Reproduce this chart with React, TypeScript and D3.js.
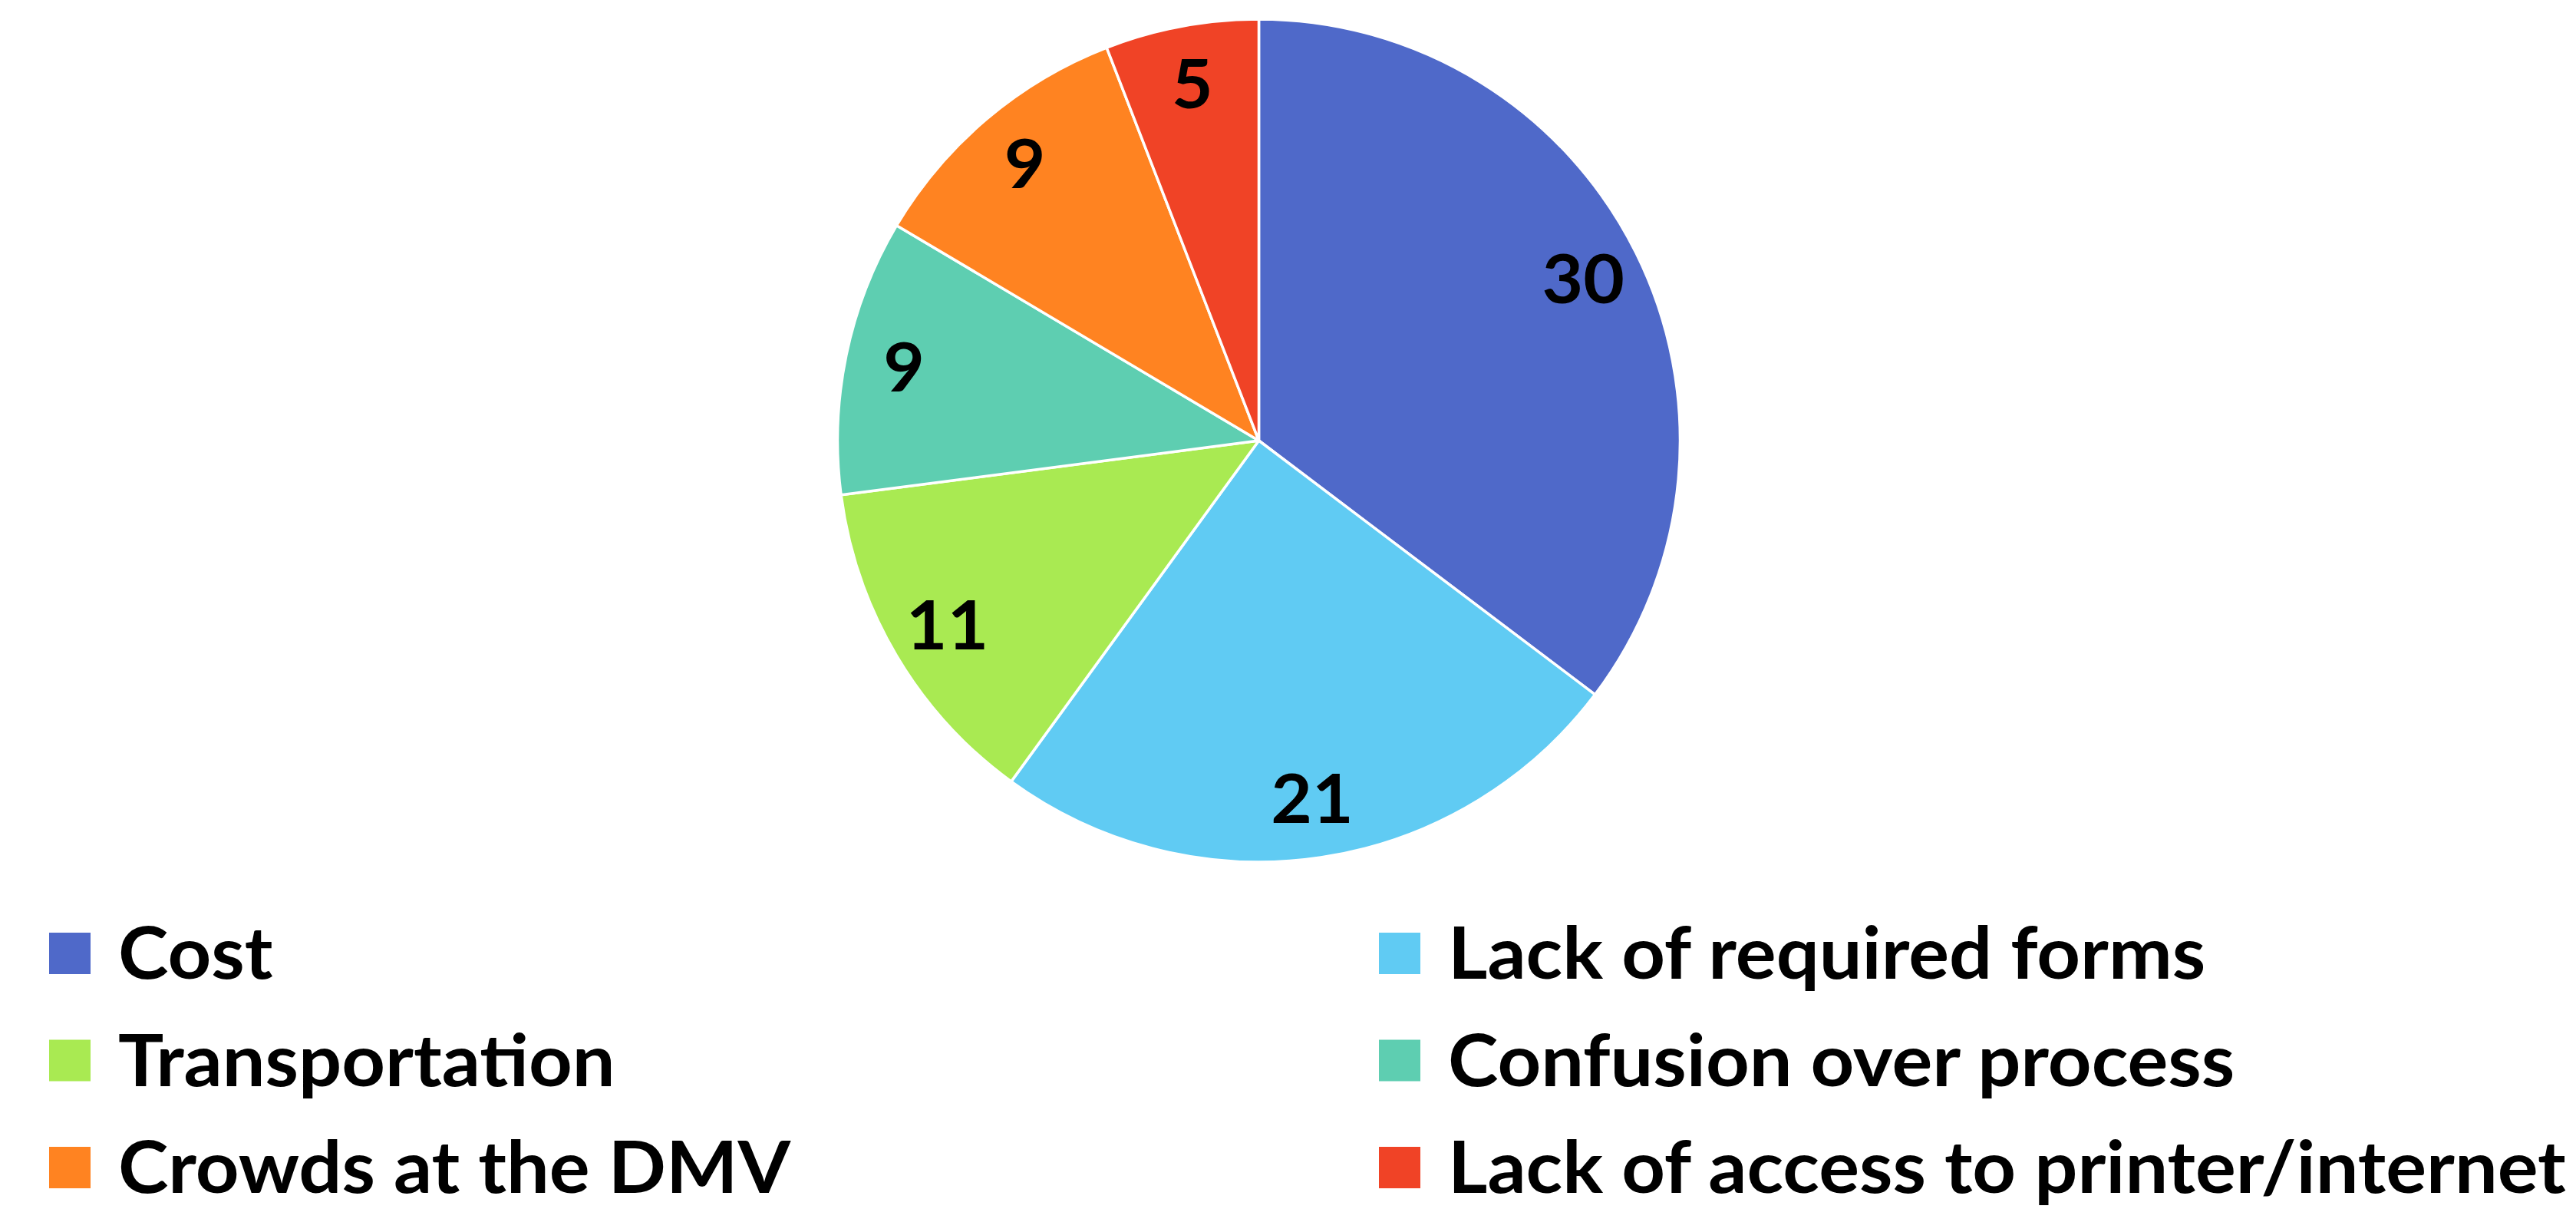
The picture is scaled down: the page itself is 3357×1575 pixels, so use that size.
import React, { useEffect, useRef } from "react";
import * as d3 from "d3";

// reasons people gave, clockwise from 12 o'clock
const categories = [
  "Cost",
  "Lack of required forms",
  "Transportation",
  "Confusion over process",
  "Crowds at the DMV",
  "Lack of access to printer/internet",
];
const counts = [30, 21, 11, 9, 9, 5];
const sliceColors = ["#4F69C9", "#60CBF3", "#A9EA52", "#5ECEB1", "#FF8321", "#F04326"];

const W = 3357;
const H = 1575;

export default function App() {
  const ref = useRef<SVGSVGElement>(null);

  useEffect(() => {
    document.body.style.margin = "0";
    const svg = d3.select(ref.current);
    svg.selectAll("*").remove();

    const font = "Lato, 'Open Sans', sans-serif";
    const cx = 1640.5,
      cy = 574,
      r = 549;

    // measure the longest legend entry, then stretch text to the reference's width
    const probe = svg
      .append("text")
      .attr("font-family", font)
      .attr("font-weight", 700)
      .attr("font-size", 94)
      .text(categories[5]);
    const natural = (probe.node() as SVGTextElement).getComputedTextLength() || 1457;
    probe.remove();
    const squeeze = 1457 / natural;

    const data = categories.map((c, i) => ({ name: c, value: counts[i], color: sliceColors[i] }));

    const pie = d3
      .pie<any>()
      .sort(null)
      .value((d) => d.value);
    const arc = d3.arc<any>().innerRadius(0).outerRadius(r);
    const labelArc = d3.arc<any>().innerRadius(r * 0.86).outerRadius(r * 0.86);

    const g = svg.append("g").attr("transform", `translate(${cx},${cy})`);

    g.selectAll("path")
      .data(pie(data))
      .enter()
      .append("path")
      .attr("d", arc)
      .attr("fill", (d) => d.data.color)
      .attr("stroke", "#fff")
      .attr("stroke-width", 3.5)
      .attr("stroke-linejoin", "round");

    g.selectAll("text.val")
      .data(pie(data))
      .enter()
      .append("text")
      .attr("class", "val")
      .attr("transform", (d) => {
        const [x, y] = labelArc.centroid(d);
        return `translate(${x},${y + 31}) scale(${squeeze},1)`;
      })
      .attr("text-anchor", "middle")
      .attr("font-family", font)
      .attr("font-weight", 700)
      .attr("font-size", 88)
      .attr("fill", "#000")
      .text((d) => d.data.value);

    // legend: two columns, filled row by row
    const colX = [64, 1797];
    const rowY = d3.scalePoint<number>().domain([0, 1, 2]).range([1242, 1521]);
    const sw = 54;

    const items = svg
      .append("g")
      .selectAll("g")
      .data(data)
      .enter()
      .append("g")
      .attr("transform", (d, i) => `translate(${colX[i % 2]},${rowY(Math.floor(i / 2))})`);

    items
      .append("rect")
      .attr("x", 0)
      .attr("y", -sw / 2)
      .attr("width", sw)
      .attr("height", sw)
      .attr("fill", (d) => d.color);

    items
      .append("text")
      .attr("transform", `translate(${sw + 36},33) scale(${squeeze},1)`)
      .attr("font-family", font)
      .attr("font-weight", 700)
      .attr("font-size", 94)
      .attr("fill", "#000")
      .text((d) => d.name);
  }, []);

  return <svg ref={ref} width={W} height={H} style={{ display: "block", background: "#fff" }} />;
}
